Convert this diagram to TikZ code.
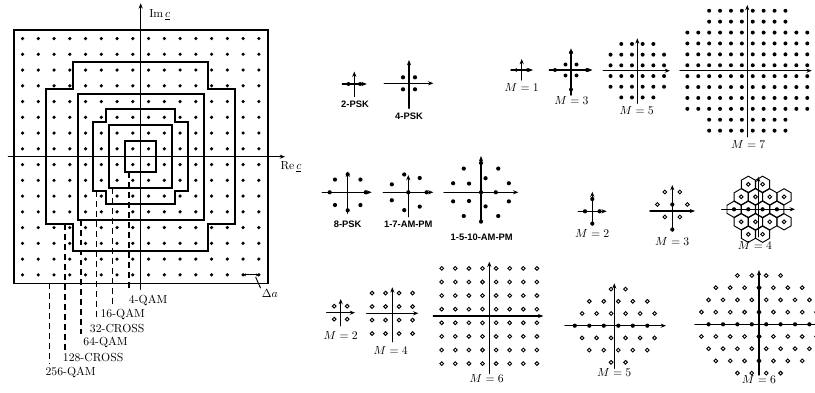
\documentclass[tikz,border=0pt]{standalone}
\usepackage{fontspec}
\newfontfamily\pskfont{Liberation Sans}
\usetikzlibrary{arrows.meta}

\begin{document}
\begin{tikzpicture}[x=0.03cm, y=-0.03cm, line cap=round,
  ax/.style={line width=1.2pt, -{Stealth[length=4.5pt, width=3.5pt]}},
  rim/.style={line width=1.7pt, line join=miter, line cap=butt},
  lead/.style={line width=1.3pt, dash pattern=on 5pt off 3.5pt, line cap=butt, shorten >=2pt},
  cell/.style={line width=0.8pt},
  odot/.style={line width=0.8pt, fill=white},
  psk/.style={font=\pskfont\bfseries\fontsize{8}{9}\selectfont, inner sep=1pt},
  mlab/.style={inner sep=1pt},
  qlab/.style={anchor=west, inner sep=1pt}]
\useasboundingbox (0,0) rectangle (815,392);

% Nested QAM and CROSS boundaries on the square lattice.
\begin{scope}[shift={(140.7,156.7)}, x=0.4725cm, y=0.4725cm]
  \foreach \i in {-8,...,7}
    \foreach \j in {-8,...,7}
      \fill (\i+0.5,\j+0.5) circle (1.5pt);
  \draw[rim] (-8.05,-8.05) rectangle (8.1,8.05); % 256-QAM
  \draw[rim] (-4.3,6) -- (4.3,6) -- (4.3,4.3) -- (6,4.3) -- (6,-4.3) -- (4.3,-4.3)
    -- (4.3,-6) -- (-4.3,-6) -- (-4.3,-4.3) -- (-6,-4.3) -- (-6,4.3) -- (-4.3,4.3) -- cycle; % 128-CROSS
  \draw[rim] (-4,-4) rectangle (4,4); % 64-QAM
  \draw[rim] (-2.2,3) -- (2.2,3) -- (2.2,2.2) -- (3,2.2) -- (3,-2.2) -- (2.2,-2.2)
    -- (2.2,-3) -- (-2.2,-3) -- (-2.2,-2.2) -- (-3,-2.2) -- (-3,2.2) -- (-2.2,2.2) -- cycle; % 32-CROSS
  \draw[rim] (-2,-2) rectangle (2,2); % 16-QAM
  \draw[rim] (-1,-1) rectangle (1,1); % 4-QAM
  % Axes.
  \coordinate (L) at (-8.4,0);
  \coordinate (R) at (9.16,0);
  \coordinate (B) at (0,-8.42);
  \coordinate (T) at (0,9.74);
  \draw[ax] (L) -- (R);
  \draw[ax] (B) -- (T);
  \node[anchor=west] (re) at (8.62,-0.63) {$\mathrm{Re}\,\underline{c}$};
  \node[anchor=west] (im) at (0.28,9.0) {$\mathrm{Im}\,\underline{c}$};
  % Leader start points on the lower edges.
  \coordinate (s4) at (-0.75,-1);
  \coordinate (s16) at (-1.8,-2);
  \coordinate (s32) at (-2.8,-2.2);
  \coordinate (s64) at (-3.8,-4);
  \coordinate (s128) at (-4.8,-4.3);
  \coordinate (s256) at (-5.8,-8.05);
  % Spacing of the lattice.
  \coordinate (da1) at (6.5,-7.5);
  \coordinate (da2) at (7.5,-7.5);
  \coordinate (dm) at (7.3,-7.65);
  \draw[line width=0.8pt, {Stealth[length=2.5pt, width=2.5pt]}-{Stealth[length=2.5pt, width=2.5pt]}] (da1) -- (da2);
\end{scope}
\node[anchor=west, inner sep=1pt] (da) at (260.5,293.3) {$\Delta a$};
\draw[line width=0.8pt] (dm) -- (da.north west);

\node[qlab] (l4) at (127.5,300.7) {4-QAM};
\node[qlab] (l16) at (99.2,314.3) {16-QAM};
\node[qlab] (l32) at (88.5,328.3) {32-CROSS};
\node[qlab] (l64) at (82,342.7) {64-QAM};
\node[qlab] (l128) at (61.5,357.7) {128-CROSS};
\node[qlab] (l256) at (44.2,372.7) {256-QAM};
\foreach \n in {4,16,32,64,128,256}
  \draw[lead] (s\n) -- (l\n.north -| s\n);

% 2-PSK
\begin{scope}[shift={(354.3,84)}]
  \draw[ax] (-12,0) -- (12.5,0);
  \draw[ax] (0,12.5) -- (0,-12.5);
  \foreach \x in {-5.8,5.8} \fill (\x,0) circle (1.7pt);
  \node[psk] (psk2) at (0.7,20) {2-PSK};
\end{scope}

% 4-PSK
\begin{scope}[shift={(409,83.3)}]
  \draw[ax] (-24.7,0) -- (24.3,0);
  \draw[ax] (0,25) -- (0,-23.3);
  \foreach \x in {-6,6} \foreach \y in {-6,6} \fill (\x,\y) circle (1.8pt);
  \node[psk] (psk4) at (0,32.7) {4-PSK};
\end{scope}

% M = 1
\begin{scope}[shift={(521.7,70)}]
  \draw[ax] (-10.7,0) -- (11.3,0);
  \draw[ax] (0,10) -- (0,-11);
  \foreach \x in {-5.5,5.5} \fill (\x,0) circle (1.6pt);
  \node[mlab] (sq1) at (0,17.5) {$M = 1$};
\end{scope}

% M = 3
\begin{scope}[shift={(571,70)}]
  \draw[ax] (-21.7,0) -- (21.5,0);
  \draw[ax] (0,25) -- (0,-21.7);
  \foreach \x in {-5.5,5.5} \foreach \y in {-5.5,5.5} \fill (\x,\y) circle (1.7pt);
  \foreach \p in {(0,-17.5),(0,19.5),(-16,0),(16,0)} \fill \p circle (1.7pt);
  \node[mlab] (sq3) at (0.5,30.5) {$M = 3$};
\end{scope}

% M = 5
\begin{scope}[shift={(637.3,70.7)}]
  \draw[ax] (-34,0) -- (32.7,0);
  \draw[ax] (0,32.6) -- (0,-32.4);
  \foreach \i in {-3,...,2}
    \foreach \j in {-3,...,2} {
      \pgfmathtruncatemacro\cut{abs(\i+0.5)>2 && abs(\j+0.5)>2}
      \ifnum\cut=0 \fill ({10.7*(\i+0.5)},{10.7*(\j+0.5)}) circle (1.7pt); \fi
    }
  \node[mlab] (sq5) at (-0.6,39.3) {$M = 5$};
\end{scope}

% M = 7
\begin{scope}[shift={(747.3,70.7)}]
  \draw[ax] (-67.3,0) -- (64.4,0);
  \draw[ax] (0,66) -- (0,-65.7);
  \foreach \i in {-6,...,5}
    \foreach \j in {-6,...,5} {
      \pgfmathtruncatemacro\cut{abs(\i+0.5)>4 && abs(\j+0.5)>4}
      \ifnum\cut=0 \fill ({10.9*(\i+0.5)},{10.9*(\j+0.5)}) circle (1.7pt); \fi
    }
  \node[mlab] (sq7) at (1,73.3) {$M = 7$};
\end{scope}

% 8-PSK
\begin{scope}[shift={(347.7,192.3)}]
  \draw[ax] (-25.4,0) -- (24,0);
  \draw[ax] (0,21) -- (0,-20.6);
  \foreach \a in {0,45,...,315} \fill (\a:18) circle (1.8pt);
  \node[psk] (psk8) at (0,31.7) {8-PSK};
\end{scope}

% 1-7-AM-PM
\begin{scope}[shift={(408.3,192.3)}]
  \draw[ax] (-25,0) -- (25,0);
  \draw[ax] (0,24.4) -- (0,-17.3);
  \fill (0,0) circle (1.8pt);
  \foreach \k in {0,...,6} \fill ({360/7*\k}:18.3) circle (1.8pt);
  \node[psk] (am7) at (0,31.7) {1-7-AM-PM};
\end{scope}

% 1-5-10-AM-PM
\begin{scope}[shift={(481,192.3)}]
  \draw[ax] (-37,0) -- (37.3,0);
  \draw[ax] (0,29.4) -- (0,-36.3);
  \fill (0,0) circle (1.8pt);
  \foreach \k in {0,...,4} \fill ({72*\k}:14.8) circle (1.8pt);
  \foreach \k in {0,...,9} \fill ({18+36*\k}:29.3) circle (1.8pt);
  \node[psk] (am10) at (0.7,45.4) {1-5-10-AM-PM};
\end{scope}

% Hexagonal M = 2
\begin{scope}[shift={(592.3,211.3)}]
  \draw[ax] (-14,0) -- (14.4,0);
  \draw[ax] (0,13.7) -- (0,-19.6);
  \foreach \p in {(-7.3,0),(7.3,0),(0,-12.3),(0,12.3)} \fill \p circle (1.8pt);
  \node[mlab] (hx2) at (0,22) {$M = 2$};
\end{scope}

% Hexagonal M = 3
\begin{scope}[shift={(672.3,211)}]
  \draw[ax] (-22.3,0) -- (22.7,0);
  \draw[ax] (0,20) -- (0,-26);
  \foreach \p in {(-7.5,-19),(7.5,-19),(-15,-6.5),(15,-6.5),(-7.5,6),(7.5,6)}
    \draw[odot] \p circle (1.6pt);
  \foreach \p in {(0,-6.5),(0,18.5)} \fill \p circle (1.8pt);
  \node[mlab] (hx3) at (0,30.7) {$M = 3$};
\end{scope}

% Hexagonal M = 4 with its cells
\begin{scope}[shift={(758.3,209.3)}]
  \def\hr{8.1}
  \foreach \x/\y in {-24.3/0,-10/0,4.3/0,18.6/0, -10/-25,4.3/-25, -10/25,4.3/25,
      -17.15/-12.5,-2.85/-12.5,11.45/-12.5,25.75/-12.5, -17.15/12.5,-2.85/12.5,11.45/12.5,25.75/12.5}
    \draw[cell] (\x,\y) +(30:\hr) -- +(90:\hr) -- +(150:\hr) -- +(210:\hr) -- +(270:\hr) -- +(330:\hr) -- cycle;
  \draw[ax] (-36.6,0) -- (36.7,0);
  \draw[ax] (0,27.4) -- (0,-32.6);
  \foreach \x/\y in {-10/-25,4.3/-25, -10/25,4.3/25,
      -17.15/-12.5,-2.85/-12.5,11.45/-12.5,25.75/-12.5, -17.15/12.5,-2.85/12.5,11.45/12.5,25.75/12.5}
    \draw[odot] (\x,\y) circle (1.6pt);
  \foreach \x in {-24.3,-10,4.3,18.6} \fill (\x,0) circle (1.8pt);
  \node[mlab] (hx4) at (-3.3,36.5) {$M = 4$};
\end{scope}

% Square M = 2
\begin{scope}[shift={(340.7,312.7)}]
  \draw[ax] (-14,0) -- (14.3,0);
  \draw[ax] (0,13) -- (0,-13.7);
  \foreach \x in {-6.5,6.5} \foreach \y in {-6.5,6.5} \draw[odot] (\x,\y) circle (1.6pt);
  \node[mlab] (sqb2) at (0,22.3) {$M = 2$};
\end{scope}

% Square M = 4
\begin{scope}[shift={(392.3,313.3)}]
  \draw[ax] (-25.6,0) -- (26,0);
  \draw[ax] (0,28.4) -- (0,-26);
  \foreach \i in {-2,...,1} \foreach \j in {-2,...,1}
    \draw[odot] ({13.5*(\i+0.5)},{13.5*(\j+0.5)}) circle (1.6pt);
  \node[mlab] (sqb4) at (-1.6,36.7) {$M = 4$};
\end{scope}

% Square M = 6
\begin{scope}[shift={(489.3,316)}]
  \draw[ax] (-56,0) -- (54,0);
  \draw[ax] (0,57.3) -- (0,-54.3);
  \foreach \i in {-4,...,3} \foreach \j in {-4,...,3}
    \draw[odot] ({13.6*(\i+0.5)},{13.6*(\j+0.5)}) circle (1.6pt);
  \node[mlab] (sqb6) at (-2.6,62.3) {$M = 6$};
\end{scope}

% Hexagonal M = 5
\begin{scope}[shift={(614.3,325.7)}]
  \draw[ax] (-49.3,0) -- (51.7,0);
  \draw[ax] (0,42.6) -- (0,-42.4);
  \foreach \r/\o/\kmin/\kmax in {1/-3.25/-2/3, -1/-3.25/-2/3, 2/4/-2/2, -2/4/-2/2, 3/-3.25/0/1, -3/-3.25/0/1}
    \foreach \k in {\kmin,...,\kmax}
      \draw[odot] ({\o+14.5*(\k)},{12.2*(\r)}) circle (1.6pt);
  \foreach \k in {-3,...,2} \fill ({4+14.5*(\k)},0) circle (1.8pt);
  \node[mlab] (hx5) at (0,46.6) {$M = 5$};
\end{scope}

% Hexagonal M = 6
\begin{scope}[shift={(759,324.3)}]
  \draw[ax] (-64,0) -- (62,0);
  \draw[ax] (0,50.7) -- (0,-54.3);
  \foreach \r/\o/\kmin/\kmax in {1/0/-4/4, -1/0/-4/4, 2/7.2/-4/3, -2/7.2/-4/3, 3/0/-3/3, -3/0/-3/3, 4/7.2/-2/1, -4/7.2/-2/1}
    \foreach \k in {\kmin,...,\kmax}
      \draw[odot] ({\o+14.4*(\k)},{12.2*(\r)}) circle (1.6pt);
  \foreach \k in {-4,...,3} \fill ({7.2+14.4*(\k)},0) circle (1.8pt);
  \foreach \y in {-36.6,-12.2,12.2,36.6} \fill (0,\y) circle (1.8pt);
  \node[mlab] (hx6) at (0,54.7) {$M = 6$};
\end{scope}
\end{tikzpicture}
\end{document}
